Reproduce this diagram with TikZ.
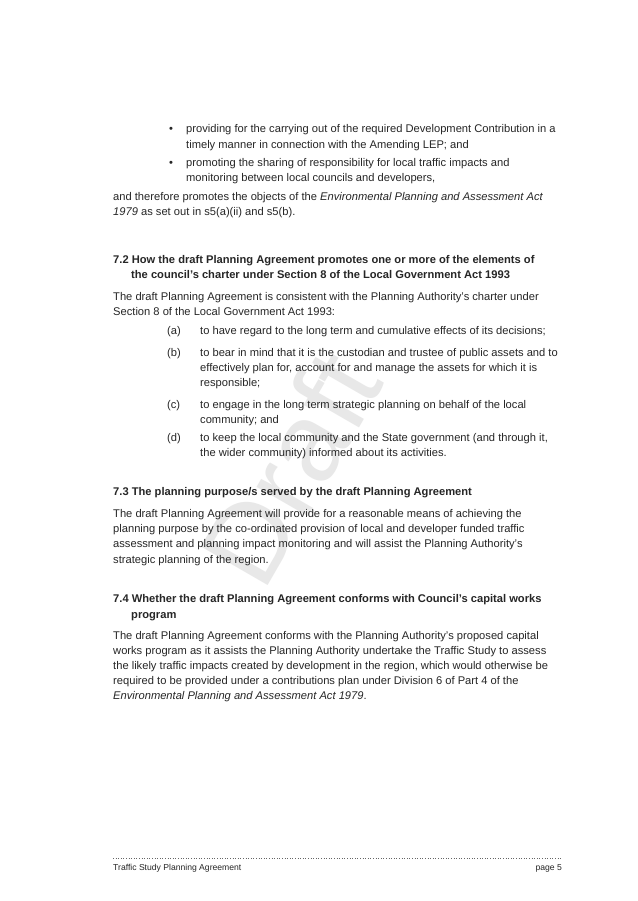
\documentclass[tikz,border=0pt]{standalone}
\usepackage{fontspec}
\setmainfont{Liberation Sans}
\usepackage{tikz}
\tikzset{
  body/.style={anchor=base west, inner sep=0pt, font=\fontsize{11.15}{13}\selectfont, text=black!85},
  head/.style={body, font=\fontsize{11.15}{13}\selectfont\bfseries},
  foot/.style={anchor=base west, inner sep=0pt, font=\fontsize{8.6}{10}\selectfont, text=black!85}
}
\begin{document}
\begin{tikzpicture}[x=1pt,y=-1pt]
    \useasboundingbox[fill=white] (0,0) rectangle (637,901);

    % Watermark
    \node[rotate=60, text=black!9, font=\fontsize{112}{112}\selectfont] (wm) at (290,468) {Draft};

    % Bullets
    \node[body] (b1) at (169,133) {\textbullet};
    \node[body] (t1a) at (186,133) {providing for the carrying out of the required Development Contribution in a};
    \node[body] (t1b) at (186,149) {timely manner in connection with the Amending LEP; and};
    \node[body] (b2) at (169,167) {\textbullet};
    \node[body] (t2a) at (186,167) {promoting the sharing of responsibility for local traffic impacts and};
    \node[body] (t2b) at (186,182) {monitoring between local councils and developers,};
    \node[body] (p1a) at (113,201) {and therefore promotes the objects of the \textit{Environmental Planning and Assessment Act}};
    \node[body] (p1b) at (113,216) {\textit{1979} as set out in s5(a)(ii) and s5(b).};

    % 7.2
    \node[head] (h2a) at (113,263) {7.2 How the draft Planning Agreement promotes one or more of the elements of};
    \node[head] (h2b) at (131,278) {the council's charter under Section 8 of the Local Government Act 1993};
    \node[body] (p2a) at (113,300) {The draft Planning Agreement is consistent with the Planning Authority's charter under};
    \node[body] (p2b) at (113,315) {Section 8 of the Local Government Act 1993:};
    \node[body] (la) at (167,334) {(a)};
    \node[body] (ta) at (200,334) {to have regard to the long term and cumulative effects of its decisions;};
    \node[body] (lb) at (167,356) {(b)};
    \node[body] (tb1) at (200,356) {to bear in mind that it is the custodian and trustee of public assets and to};
    \node[body] (tb2) at (200,371) {effectively plan for, account for and manage the assets for which it is};
    \node[body] (tb3) at (200,386) {responsible;};
    \node[body] (lc) at (167,408) {(c)};
    \node[body] (tc1) at (200,408) {to engage in the long term strategic planning on behalf of the local};
    \node[body] (tc2) at (200,423) {community; and};
    \node[body] (ld) at (167,441) {(d)};
    \node[body] (td1) at (200,441) {to keep the local community and the State government (and through it,};
    \node[body] (td2) at (200,456) {the wider community) informed about its activities.};

    % 7.3
    \node[head] (h3) at (113,495) {7.3 The planning purpose/s served by the draft Planning Agreement};
    \node[body] (p3a) at (113,517) {The draft Planning Agreement will provide for a reasonable means of achieving the};
    \node[body] (p3b) at (113,532) {planning purpose by the co-ordinated provision of local and developer funded traffic};
    \node[body] (p3c) at (113,547) {assessment and planning impact monitoring and will assist the Planning Authority's};
    \node[body] (p3d) at (113,563) {strategic planning of the region.};

    % 7.4
    \node[head] (h4a) at (113,602) {7.4 Whether the draft Planning Agreement conforms with Council's capital works};
    \node[head] (h4b) at (131,618) {program};
    \node[body] (p4a) at (113,639) {The draft Planning Agreement conforms with the Planning Authority's proposed capital};
    \node[body] (p4b) at (113,654) {works program as it assists the Planning Authority undertake the Traffic Study to assess};
    \node[body] (p4c) at (113,669) {the likely traffic impacts created by development in the region, which would otherwise be};
    \node[body] (p4d) at (113,684) {required to be provided under a contributions plan under Division 6 of Part 4 of the};
    \node[body] (p4e) at (113,699) {\textit{Environmental Planning and Assessment Act 1979}.};

    % Footer
    \coordinate (fl) at (113,858);
    \coordinate (fr) at (562,858);
    \draw[black!60, dotted, line width=0.6pt] (fl) -- (fr);
    \node[foot] (ft) at (113,870) {Traffic Study Planning Agreement};
    \node[foot, anchor=base east] (pg) at (562,870) {page 5};
\end{tikzpicture}
\end{document}
